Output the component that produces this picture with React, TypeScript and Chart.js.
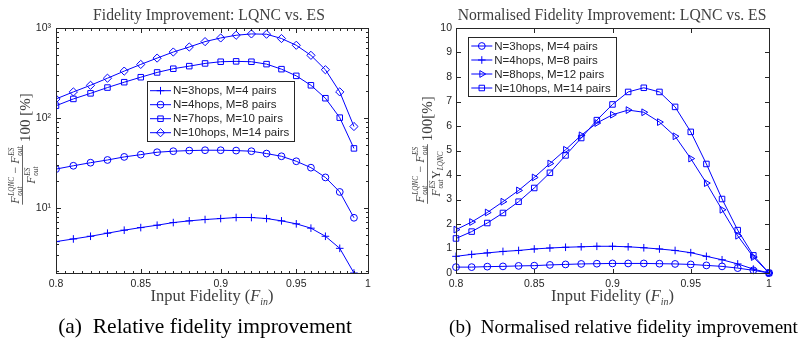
import React, { useEffect, useRef } from 'react';
import { Chart, registerables } from 'chart.js';
import { drawPoint } from 'chart.js/helpers';

Chart.register(...registerables);

// ---------------- data ----------------
// (a) relative fidelity improvement [%], log-log axes
const FIN_A = [0.8, 0.81, 0.82, 0.83, 0.84, 0.85, 0.86, 0.87, 0.88, 0.89, 0.9, 0.91, 0.92, 0.93, 0.94, 0.95, 0.96, 0.97, 0.98, 0.99];
const A_N3 = [4.24, 4.54, 4.86, 5.26, 5.68, 6.07, 6.45, 6.9, 7.21, 7.46, 7.65, 7.85, 7.85, 7.65, 7.21, 6.68, 5.98, 4.86, 3.57, 1.9];
const A_N4 = [27.1, 29.5, 31.9, 34.2, 37.0, 39.2, 41.7, 42.8, 43.5, 43.9, 43.9, 43.5, 42.8, 40.3, 37.6, 33.1, 28.1, 21.9, 15.1, 7.8];
const A_N7 = [137, 163, 188, 218, 250, 284, 321, 353, 377, 404, 422, 426, 422, 397, 349, 294, 231, 166, 101, 46];
const A_N10 = [163, 195, 231, 277, 332, 394, 463, 541, 615, 706, 775, 831, 859, 853, 764, 643, 497, 344, 195, 80.5];

// (b) normalised relative fidelity improvement
const FIN_B = [0.8, 0.81, 0.82, 0.83, 0.84, 0.85, 0.86, 0.87, 0.88, 0.89, 0.9, 0.91, 0.92, 0.93, 0.94, 0.95, 0.96, 0.97, 0.98, 0.99, 1.0];
const B_N3 = [0.24, 0.24, 0.26, 0.27, 0.29, 0.3, 0.33, 0.35, 0.37, 0.38, 0.39, 0.39, 0.39, 0.38, 0.37, 0.35, 0.31, 0.27, 0.2, 0.11, 0];
const B_N4 = [0.68, 0.76, 0.82, 0.88, 0.92, 0.98, 1.02, 1.05, 1.07, 1.09, 1.09, 1.07, 1.03, 0.98, 0.92, 0.83, 0.68, 0.54, 0.37, 0.16, 0];
const B_N8 = [1.77, 2.08, 2.47, 2.91, 3.37, 3.9, 4.47, 5.03, 5.62, 6.12, 6.46, 6.65, 6.56, 6.16, 5.58, 4.67, 3.67, 2.58, 1.52, 0.65, 0];
const B_N10 = [1.41, 1.69, 2.04, 2.45, 2.91, 3.47, 4.09, 4.8, 5.51, 6.24, 6.88, 7.39, 7.56, 7.39, 6.78, 5.76, 4.45, 3.02, 1.75, 0.72, 0];

const A_LABELS = ['N=3hops, M=4 pairs', 'N=4hops, M=8 pairs', 'N=7hops, M=10 pairs', 'N=10hops, M=14 pairs'];
const B_LABELS = ['N=3hops, M=4 pairs', 'N=4hops, M=8 pairs', 'N=8hops, M=12 pairs', 'N=10hops, M=14 pairs'];

const X_TICKS = [0.8, 0.85, 0.9, 0.95, 1];
const X_TICK_LABELS = ['0.8', '0.85', '0.9', '0.95', '1'];
const A_Y_TICKS = [10, 100, 1000];
const A_Y_TICK_LABELS = ['10\u00B9', '10\u00B2', '10\u00B3'];
const B_Y_TICKS = [0, 1, 2, 3, 4, 5, 6, 7, 8, 9, 10];
const B_Y_TICK_LABELS = ['0', '1', '2', '3', '4', '5', '6', '7', '8', '9', '10'];

// ---------------- styles ----------------
const BLUE = '#0000ff';
const AXIS = '#262626';
const TEXT = '#404040';
const SANS = '"Liberation Sans", Arial, sans-serif';
const SERIF = '"Liberation Serif", "Times New Roman", serif';
const MAJ = 4.5;
const MIN = 2.5;

const MARKERS: Record<string, { style: string; radius: number; rotation: number }> = {
  plus: { style: 'cross', radius: 3.8, rotation: 0 },
  circle: { style: 'circle', radius: 3.4, rotation: 0 },
  square: { style: 'rect', radius: 3.9, rotation: 0 },
  diamond: { style: 'rectRot', radius: 4.1, rotation: 0 },
  triangle: { style: 'triangle', radius: 3.9, rotation: 90 },
};
const A_MARKERS = ['plus', 'circle', 'square', 'diamond'];
const B_MARKERS = ['circle', 'plus', 'triangle', 'square'];

type Piece =
  | { kind: 'F'; sup: string; sub: string }
  | { kind: 't'; text: string; italic?: boolean; small?: boolean; dy?: number };

function runPieces(ctx: CanvasRenderingContext2D, pieces: Piece[], x: number, base: number, fs: number, draw: boolean): number {
  let cx = x;
  for (const p of pieces) {
    if (p.kind === 'F') {
      ctx.font = `italic ${fs}px ${SERIF}`;
      if (draw) ctx.fillText('F', cx, base);
      const w = ctx.measureText('F').width + 0.6;
      const s = fs * 0.6;
      ctx.font = `italic ${s}px ${SERIF}`;
      if (draw) {
        ctx.fillText(p.sup, cx + w, base - fs * 0.45);
        ctx.fillText(p.sub, cx + w, base + fs * 0.25);
      }
      cx += w + Math.max(ctx.measureText(p.sup).width, ctx.measureText(p.sub).width) + 0.5;
    } else {
      const size = p.small ? fs * 0.6 : fs;
      ctx.font = `${p.italic ? 'italic ' : ''}${size}px ${SERIF}`;
      if (draw) ctx.fillText(p.text, cx, base + (p.dy ?? 0) * fs);
      cx += ctx.measureText(p.text).width;
    }
  }
  return cx - x;
}

function fitSize(ctx: CanvasRenderingContext2D, text: string, family: string, target: number) {
  ctx.font = `100px ${family}`;
  const w = ctx.measureText(text).width;
  return (100 * target) / w;
}

function drawYLabel(ctx: CanvasRenderingContext2D, variant: 'a' | 'b', cx: number, cy: number) {
  ctx.save();
  ctx.translate(cx, cy);
  ctx.rotate(-Math.PI / 2);
  ctx.fillStyle = TEXT;
  ctx.textAlign = 'left';
  ctx.textBaseline = 'alphabetic';
  const fs = 12;
  const num: Piece[] = [
    { kind: 'F', sup: 'LQNC', sub: 'out' },
    { kind: 't', text: ' \u2212 ' },
    { kind: 'F', sup: 'ES', sub: 'out' },
  ];
  const den: Piece[] =
    variant === 'a'
      ? [{ kind: 'F', sup: 'ES', sub: 'out' }]
      : [
          { kind: 'F', sup: 'ES', sub: 'out' },
          { kind: 't', text: '\u03A5' },
          { kind: 't', text: 'LQNC', italic: true, small: true, dy: 0.25 },
        ];
  const nW = runPieces(ctx, num, 0, 0, fs, false);
  const dW = runPieces(ctx, den, 0, 0, fs, false);
  const fracW = Math.max(nW, dW) + 2;
  const tail = variant === 'a' ? '100 [%]' : '100[%]';
  ctx.font = `15px ${SERIF}`;
  const tW = ctx.measureText(tail).width;
  const gap = 3;
  const total = fracW + gap + tW;
  const u0 = -total / 2;
  const L = variant === 'a' ? { num: -6, bar: -2.5, den: 10, tail: 5 } : { num: -3.5, bar: 0.5, den: 13, tail: 5 };
  runPieces(ctx, num, u0 + (fracW - nW) / 2, L.num, fs, true);
  ctx.fillRect(u0, L.bar - 0.4, fracW, 0.8);
  runPieces(ctx, den, u0 + (fracW - dW) / 2, L.den, fs, true);
  ctx.font = `15px ${SERIF}`;
  ctx.fillText(tail, u0 + fracW + gap, L.tail);
  ctx.restore();
}

type PanelCfg = {
  title: string;
  titleW: number;
  titleX: number;
  caption: string;
  capW: number;
  capX: number;
  xTitleW: number;
  yVariant: 'a' | 'b';
  yLabelX: number;
  yLabelY: number;
  legend: { x: number; y: number; w: number; h: number; row0: number; dy: number };
  labels: string[];
  markers: string[];
  xMinor: number;
  yLog: boolean;
};

function decorPlugin(cfg: PanelCfg) {
  return {
    id: 'decor',
    afterDatasetsDraw(chart: any) {
      const { ctx, chartArea: ca, scales } = chart;
      const xs = scales.x;
      const ys = scales.y;
      ctx.save();
      ctx.strokeStyle = AXIS;
      ctx.lineWidth = 1;
      const L = Math.round(ca.left) + 0.5;
      const R = Math.round(ca.right) + 0.5;
      const T = Math.round(ca.top) + 0.5;
      const B = Math.round(ca.bottom) + 0.5;
      ctx.beginPath();
      const vx = (p: number, len: number) => {
        ctx.moveTo(p, B);
        ctx.lineTo(p, B - len);
        ctx.moveTo(p, T);
        ctx.lineTo(p, T + len);
      };
      const hy = (p: number, len: number) => {
        ctx.moveTo(L, p);
        ctx.lineTo(L + len, p);
        ctx.moveTo(R, p);
        ctx.lineTo(R - len, p);
      };
      xs.ticks.forEach((t: any) => vx(Math.round(xs.getPixelForValue(t.value)) + 0.5, MAJ));
      if (cfg.xMinor > 0) {
        for (let i = 0; ; i++) {
          const v = xs.min + i * cfg.xMinor;
          if (v > xs.max + 1e-9) break;
          vx(Math.round(xs.getPixelForValue(v)) + 0.5, MIN);
        }
      }
      if (cfg.yLog) {
        const e0 = Math.floor(Math.log10(ys.min));
        const e1 = Math.ceil(Math.log10(ys.max));
        for (let e = e0; e <= e1; e++) {
          for (let m = 1; m <= 9; m++) {
            const v = m * Math.pow(10, e);
            if (v < ys.min - 1e-9 || v > ys.max + 1e-9) continue;
            hy(Math.round(ys.getPixelForValue(v)) + 0.5, m === 1 ? MAJ : MIN);
          }
        }
      } else {
        ys.ticks.forEach((t: any) => hy(Math.round(ys.getPixelForValue(t.value)) + 0.5, MAJ));
      }
      ctx.stroke();
      ctx.strokeRect(L, T, R - L, B - T);

      // legend
      const lg = cfg.legend;
      ctx.fillStyle = '#ffffff';
      ctx.fillRect(lg.x, lg.y, lg.w, lg.h);
      ctx.strokeStyle = AXIS;
      ctx.strokeRect(Math.round(lg.x) + 0.5, Math.round(lg.y) + 0.5, Math.round(lg.w), Math.round(lg.h));
      cfg.labels.forEach((lab, i) => {
        const y = lg.y + lg.row0 + i * lg.dy;
        const mk = MARKERS[cfg.markers[i]];
        ctx.strokeStyle = BLUE;
        ctx.lineWidth = 1;
        ctx.beginPath();
        ctx.moveTo(lg.x + 3, y);
        ctx.lineTo(lg.x + 24, y);
        ctx.stroke();
        ctx.fillStyle = 'rgba(0,0,0,0)';
        drawPoint(ctx, { pointStyle: mk.style as any, radius: mk.radius, rotation: mk.rotation, borderWidth: 1 } as any, lg.x + 13.5, y);
        ctx.fillStyle = AXIS;
        ctx.font = `11.5px ${SANS}`;
        ctx.textAlign = 'left';
        ctx.textBaseline = 'middle';
        ctx.fillText(lab, lg.x + 26, y + 0.5);
      });
      ctx.restore();
    },
    afterDraw(chart: any) {
      const { ctx, chartArea: ca } = chart;
      ctx.save();
      ctx.fillStyle = TEXT;
      ctx.textAlign = 'center';
      ctx.textBaseline = 'middle';
      // title
      const ts = fitSize(ctx, cfg.title, SERIF, cfg.titleW);
      ctx.font = `${ts}px ${SERIF}`;
      ctx.fillText(cfg.title, cfg.titleX, 16);
      // x title
      const xt: Piece[] = [
        { kind: 't', text: 'Input Fidelity (' },
        { kind: 't', text: 'F', italic: true },
        { kind: 't', text: 'in', italic: true, small: true, dy: 0.25 },
        { kind: 't', text: ')' },
      ];
      ctx.textAlign = 'left';
      ctx.textBaseline = 'alphabetic';
      const w10 = runPieces(ctx, xt, 0, 0, 10, false);
      const xfs = (10 * cfg.xTitleW) / w10;
      const xc = (ca.left + ca.right) / 2;
      runPieces(ctx, xt, xc - cfg.xTitleW / 2, 301, xfs, true);
      // y label
      drawYLabel(ctx, cfg.yVariant, cfg.yLabelX, cfg.yLabelY);
      // caption
      ctx.fillStyle = '#000000';
      ctx.textAlign = 'center';
      ctx.textBaseline = 'alphabetic';
      const cs = fitSize(ctx, cfg.caption, SERIF, cfg.capW);
      ctx.font = `${cs}px ${SERIF}`;
      ctx.fillText(cfg.caption, cfg.capX, 333);
      ctx.restore();
    },
  };
}

function makeDataset(xs: number[], ys: number[], label: string, marker: string) {
  const mk = MARKERS[marker];
  return {
    label,
    data: xs.map((x, i) => ({ x, y: ys[i] })),
    borderColor: BLUE,
    backgroundColor: 'rgba(0,0,0,0)',
    borderWidth: 1,
    pointStyle: mk.style,
    pointRadius: mk.radius,
    pointHoverRadius: mk.radius,
    pointRotation: mk.rotation,
    pointBorderColor: BLUE,
    pointBackgroundColor: 'rgba(0,0,0,0)',
    pointBorderWidth: 1,
    tension: 0,
    fill: false,
  };
}

const tickFont = { family: SANS, size: 10.5 };

function configA(): any {
  const series = [A_N3, A_N4, A_N7, A_N10];
  return {
    type: 'line',
    data: { datasets: series.map((s, i) => makeDataset(FIN_A, s, A_LABELS[i], A_MARKERS[i])) },
    options: {
      responsive: false,
      animation: false,
      events: [],
      layout: { padding: { left: 0, right: 32, top: 28, bottom: 50 } },
      plugins: { legend: { display: false }, title: { display: false }, tooltip: { enabled: false } },
      scales: {
        x: {
          type: 'logarithmic',
          min: 0.8,
          max: 1,
          grid: { display: false, drawTicks: false },
          border: { display: false },
          afterBuildTicks: (s: any) => {
            s.ticks = X_TICKS.map((v) => ({ value: v }));
          },
          ticks: { padding: 5, color: AXIS, font: tickFont, maxRotation: 0, autoSkip: false, callback: (_v: any, i: number) => X_TICK_LABELS[i] },
          afterFit: (s: any) => {
            s.height = 20;
          },
        },
        y: {
          type: 'logarithmic',
          min: 1.9,
          max: 1000,
          grid: { display: false, drawTicks: false },
          border: { display: false },
          afterBuildTicks: (s: any) => {
            s.ticks = A_Y_TICKS.map((v) => ({ value: v }));
          },
          ticks: { padding: 5, color: AXIS, font: tickFont, autoSkip: false, callback: (_v: any, i: number) => A_Y_TICK_LABELS[i] },
          afterFit: (s: any) => {
            s.width = 56;
          },
        },
      },
    },
    plugins: [
      decorPlugin({
        title: 'Fidelity Improvement: LQNC vs. ES',
        titleW: 232,
        titleX: 209,
        caption: '(a)  Relative fidelity improvement',
        capW: 294,
        capX: 205,
        xTitleW: 123,
        yVariant: 'a',
        yLabelX: 25,
        yLabelY: 149,
        legend: { x: 147, y: 81, w: 147, h: 60, row0: 9.7, dy: 14 },
        labels: A_LABELS,
        markers: A_MARKERS,
        xMinor: 0.005,
        yLog: true,
      }),
    ],
  };
}

function configB(): any {
  const series = [B_N3, B_N4, B_N8, B_N10];
  return {
    type: 'line',
    data: {
      datasets: series.map((s, i) => ({ ...makeDataset(FIN_B, s, B_LABELS[i], B_MARKERS[i]), clip: false })),
    },
    options: {
      responsive: false,
      animation: false,
      events: [],
      layout: { padding: { left: 0, right: 38, top: 28, bottom: 50 } },
      plugins: { legend: { display: false }, title: { display: false }, tooltip: { enabled: false } },
      scales: {
        x: {
          type: 'linear',
          min: 0.8,
          max: 1,
          grid: { display: false, drawTicks: false },
          border: { display: false },
          afterBuildTicks: (s: any) => {
            s.ticks = X_TICKS.map((v) => ({ value: v }));
          },
          ticks: { padding: 5, color: AXIS, font: tickFont, maxRotation: 0, autoSkip: false, callback: (_v: any, i: number) => X_TICK_LABELS[i] },
          afterFit: (s: any) => {
            s.height = 20;
          },
        },
        y: {
          type: 'linear',
          min: 0,
          max: 10,
          grid: { display: false, drawTicks: false },
          border: { display: false },
          afterBuildTicks: (s: any) => {
            s.ticks = B_Y_TICKS.map((v) => ({ value: v }));
          },
          ticks: { padding: 4, color: AXIS, font: tickFont, autoSkip: false, callback: (_v: any, i: number) => B_Y_TICK_LABELS[i] },
          afterFit: (s: any) => {
            s.width = 56;
          },
        },
      },
    },
    plugins: [
      decorPlugin({
        title: 'Normalised Fidelity Improvement: LQNC vs. ES',
        titleW: 309,
        titleX: 212,
        caption: '(b)  Normalised relative fidelity improvement',
        capW: 349,
        capX: 223.5,
        xTitleW: 123,
        yVariant: 'b',
        yLabelX: 27,
        yLabelY: 150,
        legend: { x: 68.3, y: 36.7, w: 148, h: 59, row0: 9.3, dy: 14 },
        labels: B_LABELS,
        markers: B_MARKERS,
        xMinor: 0,
        yLog: false,
      }),
    ],
  };
}

function Panel({ left, width, make }: { left: number; width: number; make: () => any }) {
  const ref = useRef<HTMLCanvasElement>(null);
  useEffect(() => {
    const chart = new Chart(ref.current as HTMLCanvasElement, make());
    return () => chart.destroy();
  }, []);
  return (
    <canvas
      ref={ref}
      width={width}
      height={343}
      style={{ position: 'absolute', left, top: 0, width, height: 343, display: 'block' }}
    />
  );
}

export default function App() {
  return (
    <div style={{ position: 'absolute', left: 0, top: 0, width: 807, height: 343, background: '#ffffff', overflow: 'hidden' }}>
      <Panel left={0} width={400} make={configA} />
      <Panel left={400} width={407} make={configB} />
    </div>
  );
}
